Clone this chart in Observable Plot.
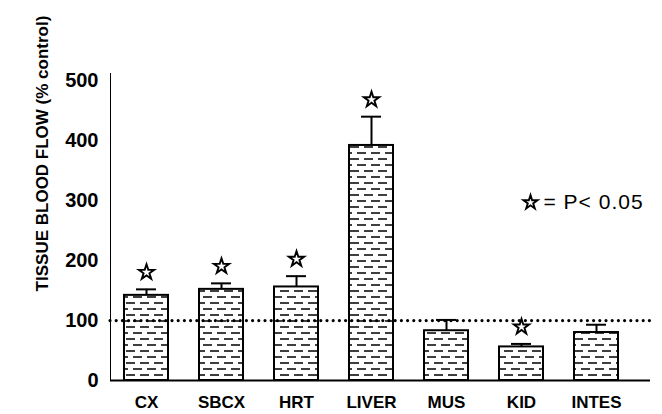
<!DOCTYPE html>
<html>
<head>
<meta charset="utf-8">
<script src="https://cdn.jsdelivr.net/npm/d3@7"></script>
<script src="https://cdn.jsdelivr.net/npm/@observablehq/plot@0.6"></script>
<style>
  html, body { margin: 0; padding: 0; background: #fff; }
  svg { display: block; }
</style>
</head>
<body>
<div id="chart"></div>
<script>
const categories = ["CX", "SBCX", "HRT", "LIVER", "MUS", "KID", "INTES"];
const means = [142, 152, 156, 392, 83, 56, 80];
const errors = [10, 10, 18, 48, 18, 5, 13];
const significant = [true, true, true, true, false, true, false];
const yTicks = [0, 100, 200, 300, 400, 500];
const controlLevel = 100;
const yTitle = "TISSUE BLOOD FLOW (% control)";
const legendText = "= P< 0.05";

const data = categories.map((c, i) => ({
  cat: c, mean: means[i], top: means[i] + errors[i], sig: significant[i]
}));
const sigData = data.filter(d => d.sig);

const font = "'Liberation Sans', Arial, Helvetica, sans-serif";

const chart = Plot.plot({
  width: 662,
  height: 414,
  marginLeft: 110,
  marginRight: 12,
  marginTop: 73,
  marginBottom: 34,
  style: { fontFamily: font, background: "#fff", color: "#000" },
  x: {
    domain: categories,
    range: [110, 632],
    paddingInner: 0.41,
    paddingOuter: 0.18,
    tickSize: 0,
    tickPadding: 15,
    label: null
  },
  y: {
    domain: [0, 512],
    ticks: yTicks,
    tickSize: 0,
    tickPadding: 12,
    line: true,
    label: null
  },
  marks: [
    Plot.barY(data, { x: "cat", y: "mean", fill: "url(#dashpat)", stroke: "#000", strokeWidth: 2 }),
    Plot.ruleX(data, { x: "cat", y1: "mean", y2: "top", stroke: "#000", strokeWidth: 2 }),
    Plot.tickY(data, { x: "cat", y: "top", stroke: "#000", strokeWidth: 2, insetLeft: 12, insetRight: 12 }),
    Plot.ruleY([controlLevel], { stroke: "#000", strokeWidth: 3.2, strokeDasharray: "0 6.2", strokeLinecap: "round" }),
    Plot.ruleY([0], { stroke: "#000", strokeWidth: 2 }),
    Plot.dot(sigData, { x: "cat", y: "top", dy: -17, symbol: "star", r: 4.8, fill: "#fff", stroke: "#000", strokeWidth: 1.9, strokeLinejoin: "miter" }),
    Plot.text([yTitle], { frameAnchor: "top-left", rotate: -90, dx: -68, dy: 80, textAnchor: "middle", lineAnchor: "middle", fontSize: 17, fontWeight: "bold", fill: "#000" }),
    Plot.dot([legendText], { frameAnchor: "top-right", dx: -120, dy: 129, symbol: "star", r: 4.4, fill: "#fff", stroke: "#000", strokeWidth: 1.9, strokeLinejoin: "miter" }),
    Plot.text([legendText], { frameAnchor: "top-right", dx: -107, dy: 129, textAnchor: "start", lineAnchor: "middle", fontSize: 21, fill: "#000" })
  ]
});

const svg = d3.select(chart);
const defs = svg.insert("defs", ":first-child");
const pat = defs.append("pattern")
  .attr("id", "dashpat")
  .attr("patternUnits", "userSpaceOnUse")
  .attr("width", 14).attr("height", 12);
pat.append("rect").attr("width", 14).attr("height", 12).attr("fill", "#fff");
pat.append("path")
  .attr("d", "M0,3H9M7,9H14M0,9H2")
  .attr("stroke", "#000").attr("stroke-width", 1.7).attr("fill", "none");

svg.selectAll('[aria-label^="y-axis"] text').attr("font-size", 20).attr("font-weight", "bold");
svg.selectAll('[aria-label^="x-axis"] text').attr("font-size", 17).attr("font-weight", "bold");
svg.selectAll('[aria-label^="y-axis"] path, [aria-label^="y-axis"] line').attr("stroke-width", 2);
svg.selectAll("text").filter(function() { return this.textContent === legendText; })
  .attr("letter-spacing", "1px");

document.getElementById("chart").appendChild(chart);
</script>
</body>
</html>
